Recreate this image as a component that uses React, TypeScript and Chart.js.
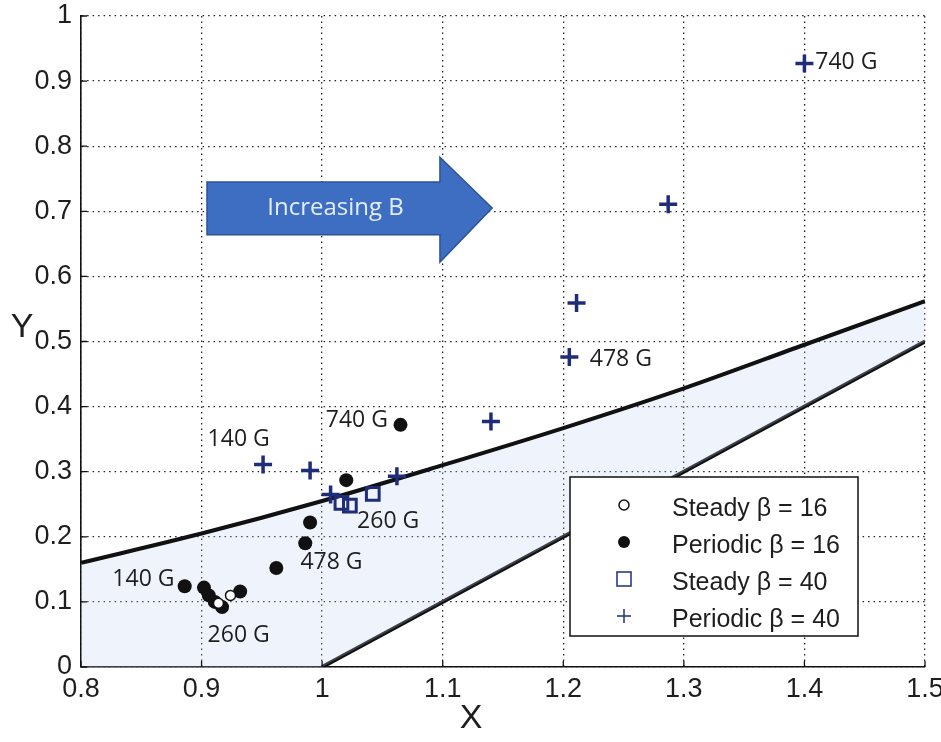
import React, { useEffect, useRef } from "react";
import { Chart, registerables } from "chart.js";

Chart.register(...registerables);

// Axis ticks
const xTickValues = [0.8, 0.9, 1.0, 1.1, 1.2, 1.3, 1.4, 1.5];
const yTickValues = [0, 0.1, 0.2, 0.3, 0.4, 0.5, 0.6, 0.7, 0.8, 0.9, 1];

// Stability boundaries
const upperX = [0.8, 0.9, 1.0, 1.1, 1.2, 1.3, 1.4, 1.5];
const upperY = [0.16, 0.205, 0.255, 0.31, 0.367, 0.428, 0.495, 0.562];
const lowerX = [1.0, 1.5];
const lowerY = [0.0, 0.5];
// floor of the shaded band
const floorX = [0.8, 1.0, 1.5];
const floorY = [0, 0, 0.5];

// Measured cases
const steady16X = [0.914, 0.924];
const steady16Y = [0.098, 0.11];
const periodic16X = [0.886, 0.902, 0.906, 0.911, 0.917, 0.932, 0.962, 0.986, 0.99, 1.02, 1.065];
const periodic16Y = [0.124, 0.122, 0.11, 0.1, 0.092, 0.116, 0.152, 0.19, 0.222, 0.287, 0.372];
const steady40X = [1.016, 1.023, 1.042];
const steady40Y = [0.252, 0.248, 0.266];
const periodic40X = [0.951, 0.99, 1.007, 1.062, 1.14, 1.205, 1.211, 1.287, 1.4];
const periodic40Y = [0.311, 0.302, 0.265, 0.293, 0.377, 0.476, 0.559, 0.711, 0.927];

// Field-strength notes
const noteText = ["740 G", "478 G", "740 G", "140 G", "260 G", "478 G", "140 G", "260 G"];
const noteX = [1.409, 1.222, 1.003, 0.905, 1.029, 0.982, 0.826, 0.905];
const noteY = [0.928, 0.472, 0.378, 0.349, 0.223, 0.16, 0.134, 0.048];

// Legend entries
const legendLabels = ["Steady \u03b2 = 16", "Periodic \u03b2 = 16", "Steady \u03b2 = 40", "Periodic \u03b2 = 40"];

// "Increasing B" arrow outline, in data units
const arrowBodyX = [0.9045, 1.0977];
const arrowBodyY = [0.664, 0.745];
const arrowHeadY = [0.622, 0.783];
const arrowTip = [1.141, 0.705];
const arrowLabel = "Increasing B";

const NAVY = "#1f2c78";
const TEXT = "#1e1e1e";

const toPts = (xs: number[], ys: number[]) => xs.map((x, i) => ({ x, y: ys[i] }));

const decorations = {
  id: "decorations",
  afterDatasetsDraw(chart: any) {
    const { ctx, chartArea } = chart;
    const xs = chart.scales.x;
    const ys = chart.scales.y;
    const px = (v: number) => xs.getPixelForValue(v);
    const py = (v: number) => ys.getPixelForValue(v);

    // arrow
    ctx.save();
    ctx.beginPath();
    ctx.moveTo(px(arrowBodyX[0]), py(arrowBodyY[1]));
    ctx.lineTo(px(arrowBodyX[1]), py(arrowBodyY[1]));
    ctx.lineTo(px(arrowBodyX[1]), py(arrowHeadY[1]));
    ctx.lineTo(px(arrowTip[0]), py(arrowTip[1]));
    ctx.lineTo(px(arrowBodyX[1]), py(arrowHeadY[0]));
    ctx.lineTo(px(arrowBodyX[1]), py(arrowBodyY[0]));
    ctx.lineTo(px(arrowBodyX[0]), py(arrowBodyY[0]));
    ctx.closePath();
    ctx.fillStyle = "#3e6ec2";
    ctx.fill();
    ctx.strokeStyle = "#2c539a";
    ctx.lineWidth = 1.5;
    ctx.stroke();
    ctx.fillStyle = "#e4eefb";
    ctx.font = '24px "Open Sans", sans-serif';
    ctx.textAlign = "center";
    ctx.textBaseline = "middle";
    const cx = (px(arrowBodyX[0]) + px(arrowBodyX[1])) / 2 + 12;
    ctx.fillText(arrowLabel, cx, py(arrowTip[1]));

    // field notes
    ctx.fillStyle = TEXT;
    ctx.font = '23px "Open Sans", sans-serif';
    ctx.textAlign = "left";
    noteText.forEach((t, i) => ctx.fillText(t, px(noteX[i]), py(noteY[i])));

    // legend
    const lw = 288, lh = 159;
    const lx = chartArea.right - 67 - lw;
    const ly = chartArea.bottom - 31 - lh;
    ctx.fillStyle = "#fff";
    ctx.fillRect(lx, ly, lw, lh);
    ctx.strokeStyle = "#111";
    ctx.lineWidth = 1.5;
    ctx.strokeRect(lx, ly, lw, lh);
    ctx.font = '25px "Liberation Sans", Arial, sans-serif';
    ctx.textBaseline = "middle";
    legendLabels.forEach((t, i) => {
      const my = ly + 28 + i * 37;
      const mx = lx + 54;
      ctx.lineWidth = 1.5;
      if (i === 0) {
        ctx.beginPath();
        ctx.arc(mx, my, 5, 0, Math.PI * 2);
        ctx.fillStyle = "#fff";
        ctx.fill();
        ctx.strokeStyle = "#111";
        ctx.stroke();
      } else if (i === 1) {
        ctx.beginPath();
        ctx.arc(mx, my, 6, 0, Math.PI * 2);
        ctx.fillStyle = "#111";
        ctx.fill();
      } else if (i === 2) {
        ctx.strokeStyle = NAVY;
        ctx.strokeRect(mx - 7, my - 7, 14, 14);
      } else {
        ctx.strokeStyle = NAVY;
        ctx.beginPath();
        ctx.moveTo(mx - 7, my);
        ctx.lineTo(mx + 7, my);
        ctx.moveTo(mx, my - 7);
        ctx.lineTo(mx, my + 7);
        ctx.stroke();
      }
      ctx.fillStyle = TEXT;
      ctx.fillText(t, lx + 102, my + 4);
    });
    ctx.restore();
  },
  afterDraw(chart: any) {
    const { ctx, chartArea } = chart;
    const xs = chart.scales.x;
    const ys = chart.scales.y;
    ctx.save();
    // inward tick marks
    ctx.strokeStyle = "#111";
    ctx.lineWidth = 1.3;
    ctx.beginPath();
    xs.ticks.forEach((t: any) => {
      const x = xs.getPixelForValue(t.value);
      ctx.moveTo(x, chartArea.bottom);
      ctx.lineTo(x, chartArea.bottom - 6);
    });
    ys.ticks.forEach((t: any) => {
      const y = ys.getPixelForValue(t.value);
      ctx.moveTo(chartArea.left, y);
      ctx.lineTo(chartArea.left + 6, y);
    });
    ctx.stroke();
    // axis titles
    ctx.fillStyle = TEXT;
    ctx.font = '34px "Liberation Sans", Arial, sans-serif';
    ctx.textAlign = "center";
    ctx.textBaseline = "middle";
    ctx.fillText("X", chartArea.left + 390, chartArea.bottom + 52);
    ctx.fillText("Y", 22, chartArea.top + 312);
    ctx.restore();
  },
};

export default function App() {
  const ref = useRef<HTMLCanvasElement | null>(null);

  useEffect(() => {
    if (!ref.current) return;
    const tickFont = { family: '"Liberation Sans", Arial, sans-serif', size: 27 };
    const chart = new Chart(ref.current, {
      type: "scatter",
      data: {
        datasets: [
          {
            label: legendLabels[0],
            data: toPts(steady16X, steady16Y),
            pointStyle: "circle",
            pointRadius: 5,
            pointBackgroundColor: "#fff",
            pointBorderColor: "#111",
            pointBorderWidth: 1.5,
            order: 0,
          },
          {
            label: legendLabels[1],
            data: toPts(periodic16X, periodic16Y),
            pointStyle: "circle",
            pointRadius: 7,
            pointBackgroundColor: "#111",
            pointBorderColor: "#111",
            pointBorderWidth: 0,
            order: 1,
          },
          {
            label: legendLabels[2],
            data: toPts(steady40X, steady40Y),
            pointStyle: "rect",
            pointRadius: 9,
            pointBackgroundColor: "rgba(0,0,0,0)",
            pointBorderColor: NAVY,
            pointBorderWidth: 3,
            order: 2,
          },
          {
            label: legendLabels[3],
            data: toPts(periodic40X, periodic40Y),
            pointStyle: "cross",
            pointRadius: 9,
            pointBorderColor: NAVY,
            pointBorderWidth: 3.5,
            order: 3,
          },
          {
            type: "line",
            label: "upper",
            data: toPts(upperX, upperY),
            borderColor: "#111",
            borderWidth: 4,
            pointRadius: 0,
            cubicInterpolationMode: "monotone",
            fill: 6,
            backgroundColor: "rgba(190,212,242,0.25)",
            order: 10,
          } as any,
          {
            type: "line",
            label: "lower",
            data: toPts(lowerX, lowerY),
            borderColor: "#111",
            borderWidth: 4,
            pointRadius: 0,
            fill: false,
            order: 11,
          } as any,
          {
            type: "line",
            label: "floor",
            data: toPts(floorX, floorY),
            borderColor: "rgba(0,0,0,0)",
            borderWidth: 0,
            pointRadius: 0,
            fill: false,
            order: 12,
          } as any,
        ],
      },
      options: {
        animation: false,
        responsive: true,
        maintainAspectRatio: false,
        layout: { padding: { top: 16, right: 16, left: 0, bottom: 0 } },
        plugins: {
          legend: { display: false },
          tooltip: { enabled: false },
        },
        scales: {
          x: {
            type: "linear",
            min: 0.8,
            max: 1.5,
            afterBuildTicks: (s: any) => {
              s.ticks = xTickValues.map((v) => ({ value: v }));
            },
            afterFit: (s: any) => {
              s.height = 75;
              s.paddingLeft = 0;
              s.paddingRight = 0;
            },
            ticks: {
              font: tickFont,
              color: TEXT,
              padding: 6,
              maxRotation: 0,
              autoSkip: false,
              callback: (v: any) => String(Math.round(Number(v) * 10) / 10),
            },
            grid: { color: "#222", lineWidth: 1.3, drawTicks: false },
            border: { display: true, color: "#111", width: 1.6, dash: [1.5, 4] },
          },
          y: {
            type: "linear",
            min: 0,
            max: 1,
            afterBuildTicks: (s: any) => {
              s.ticks = yTickValues.map((v) => ({ value: v }));
            },
            afterFit: (s: any) => {
              s.width = 81;
              s.paddingTop = 0;
              s.paddingBottom = 0;
            },
            ticks: {
              font: tickFont,
              color: TEXT,
              padding: 9,
              autoSkip: false,
              callback: (v: any) => String(Math.round(Number(v) * 10) / 10),
            },
            grid: { color: "#222", lineWidth: 1.3, drawTicks: false },
            border: { display: true, color: "#111", width: 1.6, dash: [1.5, 4] },
          },
        },
      },
      plugins: [decorations],
    } as any);
    return () => chart.destroy();
  }, []);

  return (
    <div style={{ position: "fixed", left: 0, top: 0, width: 941, height: 742, background: "#fff" }}>
      <canvas ref={ref} />
    </div>
  );
}
